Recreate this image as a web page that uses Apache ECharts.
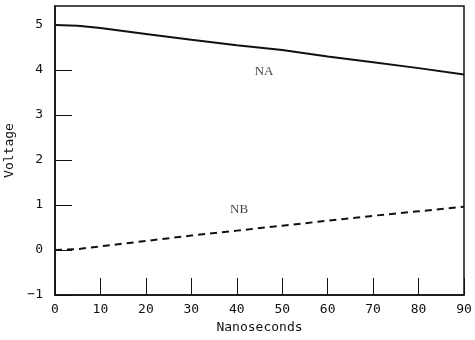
<!DOCTYPE html>
<html><head><meta charset="utf-8">
<script src="https://cdn.jsdelivr.net/npm/echarts@6/dist/echarts.min.js"></script>
<style>html,body{margin:0;padding:0;background:#fff}#c{width:475px;height:340px}</style>
</head><body><div id="c"></div>
<script>
var timeNs = [0, 5, 10, 20, 30, 40, 50, 60, 70, 80, 90];
var naVolt = [5.0, 4.98, 4.93, 4.80, 4.67, 4.55, 4.44, 4.30, 4.17, 4.04, 3.90];
var nbVolt = [0.0, 0.02, 0.08, 0.20, 0.32, 0.43, 0.54, 0.65, 0.76, 0.86, 0.96];
var xTicks = [0, 10, 20, 30, 40, 50, 60, 70, 80, 90];
var yTicks = [-1, 0, 1, 2, 3, 4, 5];
var seriesLabels = [
  {name: 'NA', x: 46, y: 3.96},
  {name: 'NB', x: 40.5, y: 0.89}
];
var font = 'DejaVu Sans Mono';
var chart = echarts.init(document.getElementById('c'));
function pairs(xs, ys){ return xs.map(function(x,i){ return [x, ys[i]]; }); }
chart.setOption({
  animation: false,
  grid: {left: 55, right: 11, top: 6, bottom: 45, show: true, borderColor: '#111', borderWidth: 1.5,
         containLabel: false, outerBoundsMode: 'none'},
  xAxis: {
    type: 'value', min: 0, max: 90, interval: 10,
    name: 'Nanoseconds', nameLocation: 'middle', nameGap: 24,
    nameTextStyle: {fontFamily: font, fontSize: 13, color: '#111'},
    axisLine: {onZero: false, lineStyle: {color: '#111', width: 1.5}},
    axisTick: {inside: true, length: 17, lineStyle: {color: '#111'}},
    axisLabel: {fontFamily: font, fontSize: 13, color: '#111', margin: 8,
      formatter: function(v){ return xTicks.indexOf(v) >= 0 ? String(v) : ''; }},
    splitLine: {show: false}
  },
  yAxis: {
    type: 'value', min: -1, max: 5.42, interval: 1,
    name: 'Voltage', nameLocation: 'middle', nameGap: 33, nameRotate: 90,
    nameTextStyle: {fontFamily: font, fontSize: 13, color: '#111'},
    axisLine: {onZero: false, lineStyle: {color: '#111', width: 1.5}},
    axisTick: {inside: true, length: 17, lineStyle: {color: '#111'}},
    axisLabel: {fontFamily: font, fontSize: 13, color: '#111', margin: 12, showMaxLabel: false,
      formatter: function(v){ return yTicks.indexOf(v) >= 0 ? (v < 0 ? '\u2212' + Math.abs(v) : String(v)) : ''; }},
    splitLine: {show: false}
  },
  series: [
    {type: 'line', data: pairs(timeNs, naVolt), symbol: 'none',
     lineStyle: {color: '#111', width: 2}},
    {type: 'line', data: pairs(timeNs, nbVolt), symbol: 'none',
     lineStyle: {color: '#111', width: 2, type: [7, 5]}},
    {type: 'scatter', symbolSize: 0,
     data: seriesLabels.map(function(d){ return {value: [d.x, d.y], name: d.name}; }),
     label: {show: true, position: 'inside', formatter: '{b}', fontFamily: 'Liberation Serif', fontSize: 13, color: '#111'}}
  ]
});
</script></body></html>
